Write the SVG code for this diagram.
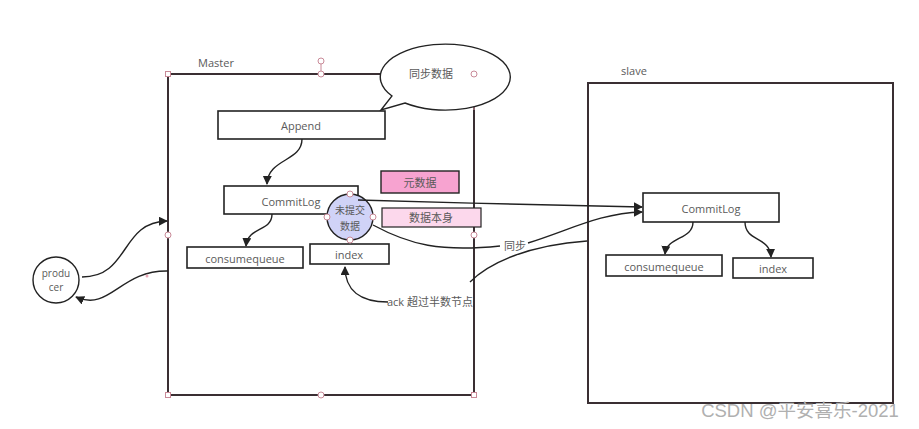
<svg xmlns="http://www.w3.org/2000/svg" width="919" height="429" viewBox="0 0 919 429">
<defs>
<style>
text{font-family:"Open Sans","Liberation Sans",sans-serif;font-size:11px;fill:#5a5a5a;text-anchor:middle;dominant-baseline:central}
.cjk{font-family:"Noto Sans CJK SC",sans-serif}
.sm{font-size:10px}
.box{fill:#fff;stroke:#222;stroke-width:1.6}
.frame{fill:none;stroke:#3a2f33;stroke-width:2}
.ln{fill:none;stroke:#222;stroke-width:1.4}
.h{fill:#fff;stroke:#c98a98;stroke-width:1}
.sel{fill:none;stroke:#e7a7b6;stroke-width:1}
</style>
<marker id="ah" viewBox="0 0 10 10" refX="9" refY="5" markerWidth="9" markerHeight="9" markerUnits="userSpaceOnUse" orient="auto">
<path d="M0,0 L10,5 L0,10 z" fill="#222"/>
</marker>
</defs>
<rect width="919" height="429" fill="#fff"/>

<g id="master">
<text x="216" y="62">Master</text>
<rect class="frame" x="168" y="74" width="306" height="321"/>
<line class="sel" x1="384" y1="74" x2="474" y2="74"/>
<line class="sel" x1="474" y1="74" x2="474" y2="110"/>
<line x1="321" y1="61" x2="321" y2="74" stroke="#c98a98" stroke-width="1"/>
<circle class="h" cx="321" cy="61" r="3"/>
<circle class="h" cx="321" cy="74" r="3"/>
<circle class="h" cx="168" cy="235" r="3"/>
<circle class="h" cx="474" cy="235" r="3"/>
<circle class="h" cx="321" cy="395" r="3"/>
<rect class="h" x="165.5" y="71.5" width="5" height="5"/>
<rect class="h" x="471.5" y="71.5" width="5" height="5"/>
<rect class="h" x="165.5" y="392.5" width="5" height="5"/>
<rect class="h" x="471.5" y="392.5" width="5" height="5"/>
</g>

<g id="bubble">
<path d="M392,96 A65,33 0 1 1 405,103 L381,110 Z" fill="#fff" stroke="#222" stroke-width="1.4"/>
<text class="cjk" x="431" y="73">同步数据</text>
<circle class="h" cx="474" cy="74" r="3"/>
</g>

<g id="append"><rect class="box" x="218" y="111" width="167" height="28"/><text x="301" y="125">Append</text></g>
<g id="commitlog"><rect class="box" x="224" y="186" width="134" height="28"/><text x="291" y="201">CommitLog</text></g>
<g id="consumequeue"><rect class="box" x="187" y="247" width="116" height="21"/><text x="245" y="258">consumequeue</text></g>
<g id="index"><rect class="box" x="310" y="244" width="79" height="20"/><text x="349" y="254">index</text></g>
<g id="meta"><rect x="381" y="171" width="78" height="22" fill="#f7a3d0" stroke="#222" stroke-width="1.4"/><text class="cjk" x="420" y="182">元数据</text></g>
<g id="data"><rect x="382" y="208" width="99" height="19" fill="#fcd8ec" stroke="#222" stroke-width="1.2"/><text class="cjk" x="431" y="217">数据本身</text></g>

<g id="uncommitted">
<circle cx="350" cy="217" r="23" fill="#d0d3f7" stroke="#222" stroke-width="1.4"/>
<text class="cjk sm" x="350" y="209">未提交</text>
<text class="cjk sm" x="350" y="225">数据</text>
<circle class="h" cx="350" cy="194" r="3"/>
<circle class="h" cx="327" cy="217" r="3"/>
<circle class="h" cx="373" cy="217" r="3"/>
<circle class="h" cx="350" cy="240" r="3"/>
</g>

<g id="producer"><circle cx="56" cy="280" r="23" fill="#fff" stroke="#222" stroke-width="1.4"/><text class="sm" x="56" y="273">produ</text><text class="sm" x="56" y="287">cer</text></g>

<g id="slave">
<text x="634" y="70">slave</text>
<rect class="frame" x="588" y="83" width="305" height="320" stroke="#222"/>
</g>
<g id="s-commitlog"><rect class="box" x="643" y="193" width="136" height="29"/><text x="711" y="208">CommitLog</text></g>
<g id="s-consumequeue"><rect class="box" x="606" y="255" width="116" height="21"/><text x="664" y="266">consumequeue</text></g>
<g id="s-index"><rect class="box" x="733" y="258" width="80" height="20"/><text x="773" y="268">index</text></g>

<g id="connectors">
<path class="ln" d="M302,139 C302,162 268,158 267,184" marker-end="url(#ah)"/>
<path class="ln" d="M272,214 C272,232 248,226 246,246" marker-end="url(#ah)"/>
<path class="ln" d="M693,222 C693,240 667,236 665,254" marker-end="url(#ah)"/>
<path class="ln" d="M745,222 C745,242 770,236 771,257" marker-end="url(#ah)"/>
<path class="ln" d="M82,277 C130,277 120,222 167,221" marker-end="url(#ah)"/>
<path class="ln" d="M168,271 C120,270 110,312 76,297" marker-end="url(#ah)" stroke="#3a2f33"/>
<circle cx="147" cy="276" r="1.5" fill="#e7a7b6"/>
<path class="ln" d="M358,200 C450,203 560,205 642,207" marker-end="url(#ah)"/>
<path class="ln" d="M373,225 C410,245 440,252 500,246"/>
<path class="ln" d="M528,243 C570,230 600,213 642,212" marker-end="url(#ah)"/>
<text class="cjk" x="515" y="245">同步</text>
<path class="ln" d="M587,241 C530,245 490,262 470,282"/>
<path class="ln" d="M388,302 C360,302 345,290 345,267" marker-end="url(#ah)"/>
<text x="430" y="301"><tspan>ack </tspan><tspan class="cjk">超过半数节点</tspan></text>
</g>

<text x="800" y="410" style="font-family:'Liberation Sans','Noto Sans CJK SC',sans-serif;font-size:18.5px;fill:#b0b0b0">CSDN @平安喜乐-2021</text>
</svg>
